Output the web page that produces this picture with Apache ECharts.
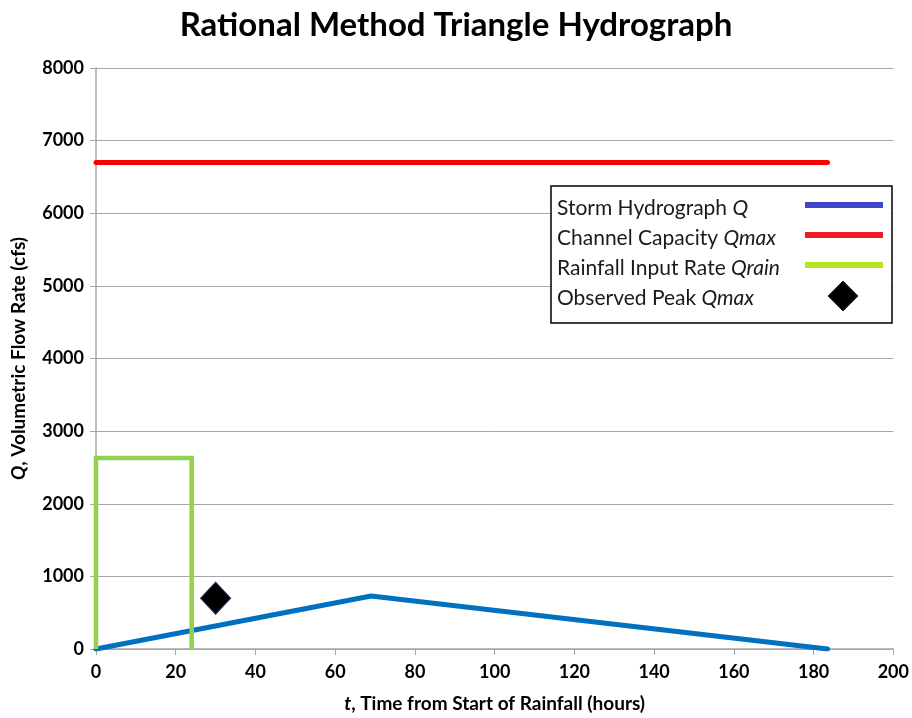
<!DOCTYPE html>
<html><head><meta charset="utf-8">
<script src="https://cdn.jsdelivr.net/npm/echarts@6/dist/echarts.min.js"></script>
<style>html,body{margin:0;padding:0;background:#fff}#c{width:912px;height:718px}</style>
</head><body><div id="c"></div>
<script>
// Data
const hydroT = [0, 69, 183.5];
const hydroQ = [0, 730, 0];
const capT = [0, 183.5];
const capQ = [6700, 6700];
const rainT = [0, 0, 24, 24];
const rainQ = [0, 2630, 2630, 0];
const peakT = [30];
const peakQ = [700];
const legendNames = ['Storm Hydrograph ', 'Channel Capacity ', 'Rainfall Input Rate ', 'Observed Peak '];
const legendItalic = ['Q', 'Qmax', 'Qrain', 'Qmax'];

const pair = (xs, ys) => xs.map((x, i) => [x, ys[i]]);
const F = 'Lato, "Open Sans", sans-serif';

const chart = echarts.init(document.getElementById('c'));

const lgX = 551, lgY = 186, rowH = 30;
const legendColors = ['#3F48CC', '#ED1C24', '#B5E61D'];
const legendGraphics = [
  {type: 'rect', shape: {x: lgX, y: lgY, width: 341, height: 137}, style: {fill: '#fff', stroke: '#000', lineWidth: 1.5}, z: 100}
];
legendNames.forEach((n, i) => {
  const cy = lgY + 22 + i * rowH;
  legendGraphics.push({
    type: 'text', x: lgX + 6, y: cy, z: 101,
    style: {
      text: '{n|' + n + '}{i|' + legendItalic[i] + '}',
      verticalAlign: 'middle',
      rich: {
        n: {fontFamily: F, fontSize: 21, fill: '#1a1a1a'},
        i: {fontFamily: F, fontSize: 21, fontStyle: 'italic', fill: '#1a1a1a'}
      }
    }
  });
  if (i < 3) {
    legendGraphics.push({type: 'line', z: 101, shape: {x1: lgX + 254, y1: cy - 3, x2: lgX + 332, y2: cy - 3},
      style: {stroke: legendColors[i], lineWidth: 6}});
  } else {
    legendGraphics.push({type: 'polygon', z: 101, shape: {points: [[lgX + 292, cy - 17], [lgX + 307, cy - 2], [lgX + 292, cy + 13], [lgX + 277, cy - 2]]},
      style: {fill: '#000', stroke: '#1c2a4a', lineWidth: 1}});
  }
});

const nameRich = {
  i: {fontFamily: F, fontSize: 19, fontWeight: 'bold', fontStyle: 'italic', color: '#000'},
  n: {fontFamily: F, fontSize: 19, fontWeight: 'bold', color: '#000'}
};

chart.setOption({
  animation: false,
  backgroundColor: '#fff',
  title: {
    text: 'Rational Method Triangle Hydrograph',
    left: 'center', top: 4,
    textStyle: {fontFamily: F, fontSize: 33, fontWeight: 'bold', color: '#000'}
  },
  grid: {left: 96, right: 18, top: 68, bottom: 69},
  xAxis: {
    type: 'value', min: 0, max: 200, interval: 20,
    name: '{i|t}{n|, Time from Start of Rainfall (hours)}',
    nameLocation: 'middle', nameGap: 45,
    nameTextStyle: {rich: nameRich},
    axisLine: {lineStyle: {color: '#A6A6A6', width: 1.5}},
    axisTick: {show: true, length: 6, lineStyle: {color: '#A6A6A6'}},
    axisLabel: {fontFamily: F, fontSize: 18, fontWeight: 'bold', color: '#000', margin: 14},
    splitLine: {show: false}
  },
  yAxis: {
    type: 'value', min: 0, max: 8000, interval: 1000,
    name: '{i|Q}{n|, Volumetric Flow Rate (cfs)}',
    nameLocation: 'middle', nameGap: 68, nameRotate: 90,
    nameTextStyle: {rich: nameRich},
    axisLine: {show: true, lineStyle: {color: '#A6A6A6', width: 1.5}},
    axisTick: {show: true, length: 6, lineStyle: {color: '#A6A6A6'}},
    axisLabel: {fontFamily: F, fontSize: 18, fontWeight: 'bold', color: '#000', margin: 12, formatter: v => String(v)},
    splitLine: {show: true, lineStyle: {color: '#A6A6A6', width: 1}}
  },
  series: [
    {name: 'Storm Hydrograph', type: 'line', data: pair(hydroT, hydroQ), showSymbol: false,
      lineStyle: {color: '#0070C0', width: 5, cap: 'round'}, z: 3},
    {name: 'Channel Capacity', type: 'line', data: pair(capT, capQ), showSymbol: false,
      lineStyle: {color: '#FF0000', width: 5, cap: 'round'}, z: 4},
    {name: 'Rainfall Input Rate', type: 'line', data: pair(rainT, rainQ), showSymbol: false,
      lineStyle: {color: '#92D050', width: 4.5, join: 'miter'}, z: 5},
    {name: 'Observed Peak', type: 'scatter', data: pair(peakT, peakQ), symbol: 'diamond', symbolSize: [30, 32],
      itemStyle: {color: '#000', opacity: 1, borderColor: '#1c2a4a', borderWidth: 1}, z: 6}
  ],
  graphic: legendGraphics
});
</script></body></html>
